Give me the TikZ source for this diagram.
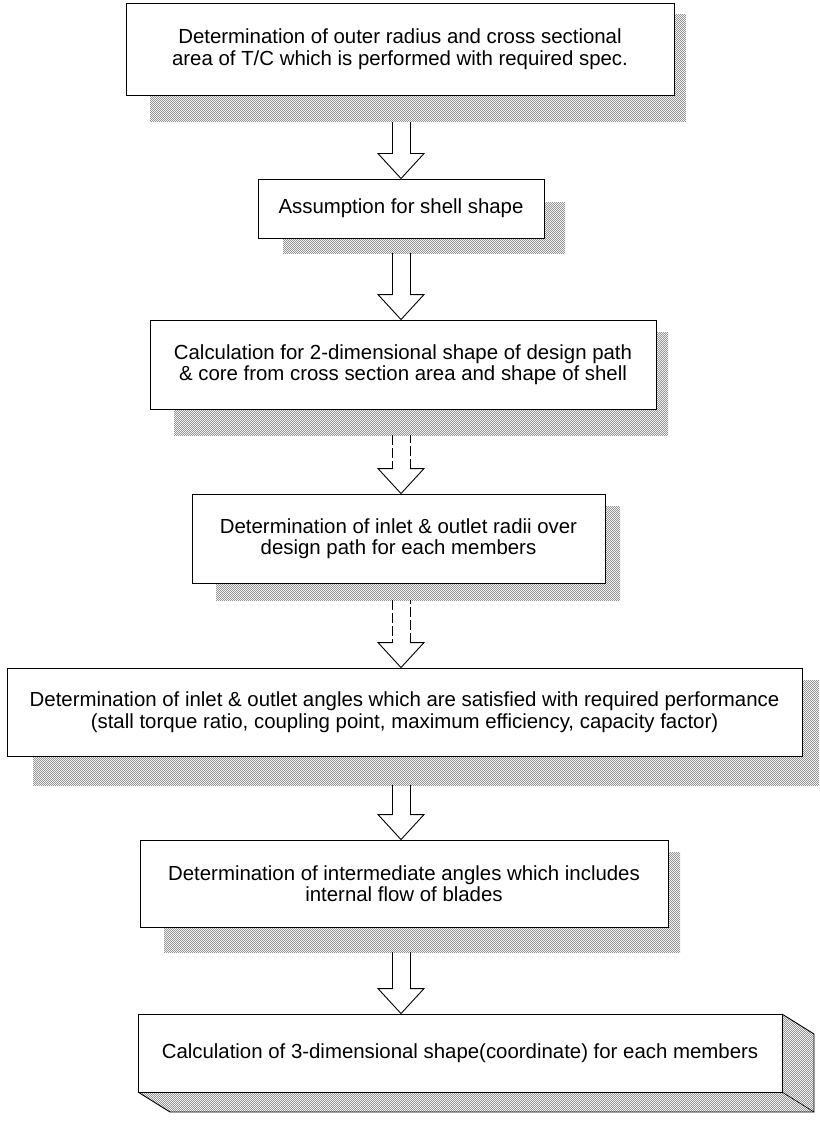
\documentclass[tikz,border=0pt]{standalone}
\usepackage{fontspec}
\setmainfont{Liberation Sans}
\usetikzlibrary{patterns,calc}
\pgfdeclarepatternformonly{finedots}{\pgfqpoint{0pt}{0pt}}{\pgfqpoint{2.4pt}{2.4pt}}{\pgfqpoint{2.4pt}{2.4pt}}{%
  \pgfpathrectangle{\pgfqpoint{0pt}{0pt}}{\pgfqpoint{1.1pt}{1.1pt}}%
  \pgfpathrectangle{\pgfqpoint{1.2pt}{1.2pt}}{\pgfqpoint{1.1pt}{1.1pt}}%
  \pgfusepath{fill}}
\begin{document}
\begin{tikzpicture}[x=1pt,y=-1pt,
  box/.style={draw, line width=0.9pt, fill=white, inner sep=0pt, align=center,
    font=\fontsize{20.4}{21.5}\selectfont},
  shad/.style={pattern=finedots, pattern color=black!42},
  arr/.style={draw, line width=0.9pt, line join=miter}]
\useasboundingbox (0,0) rectangle (819,1126);
\newcommand\hollowarrow[3][]{%
  \draw[arr,#1] let \p1=(#2), \p2=(#3) in
    (\x2-9pt,\y1) -- (\x2-9pt,\y2+25pt) (\x2+9pt,\y2+25pt) -- (\x2+9pt,\y1);
  \draw[arr] let \p2=(#3) in
    (\x2-9pt,\y2+25pt) -- (\x2-23pt,\y2+25pt) -- (\x2,\y2)
    -- (\x2+23pt,\y2+25pt) -- (\x2+9pt,\y2+25pt);}
% shadows
\fill[shad] (150,15) rectangle (686,122);
\fill[shad] (283,202) rectangle (565,253);
\fill[shad] (174,332) rectangle (668,435);
\fill[shad] (216,506) rectangle (620,600);
\fill[shad] (33,680) rectangle (819,785);
\fill[shad] (164,852) rectangle (680,952);
% boxes
\node[box, minimum width=548pt, minimum height=92pt] (b1) at (400,49)
  {Determination of outer radius and cross sectional\\area of T/C which is performed with required spec.};
\node[box, minimum width=286pt, minimum height=59pt] (b2) at (401,208.5)
  {Assumption for shell shape};
\node[box, minimum width=506pt, minimum height=89pt] (b3) at (403,364.5)
  {Calculation for 2-dimensional shape of design path\\\& core from cross section area and shape of shell};
\node[box, minimum width=413pt, minimum height=89pt] (b4) at (398.5,538.5)
  {Determination of inlet \& outlet radii over\\design path for each members};
\node[box, minimum width=795pt, minimum height=88pt] (b5) at (404.5,712)
  {Determination of inlet \& outlet angles which are satisfied with required performance\\(stall torque ratio, coupling point, maximum efficiency, capacity factor)};
\node[box, minimum width=528pt, minimum height=87pt] (b6) at (404,883.5)
  {Determination of intermediate angles which includes\\internal flow of blades};
% 3D last box
\fill[shad] (138,1092) -- (782,1092) -- (782,1014) -- (814,1034) -- (814,1112) -- (170,1112) -- cycle;
\draw[line width=0.9pt] (138,1092) -- (170,1112) -- (814,1112) -- (814,1034) -- (782,1014);
\draw[line width=0.6pt] (782,1092) -- (814,1112);
\node[box, minimum width=644pt, minimum height=78pt] (b7) at (460,1053)
  {Calculation of 3-dimensional shape(coordinate) for each members};
% arrow start points
\coordinate (s1) at (401,122);
\coordinate (s2) at (401,253);
\coordinate (s3) at (401,435);
\coordinate (s4) at (401,600);
\coordinate (s5) at (401,785);
\coordinate (s6) at (401,952);
\coordinate (t7) at (b7.north -| s6);
\hollowarrow{s1}{b2.north}
\hollowarrow{s2}{b3.north -| s2}
\hollowarrow[dash pattern=on 10pt off 3pt]{s3}{b4.north -| s3}
\hollowarrow[dash pattern=on 10pt off 3pt]{s4}{b5.north -| s4}
\hollowarrow{s5}{b6.north -| s5}
\hollowarrow{s6}{t7}
\end{tikzpicture}
\end{document}
